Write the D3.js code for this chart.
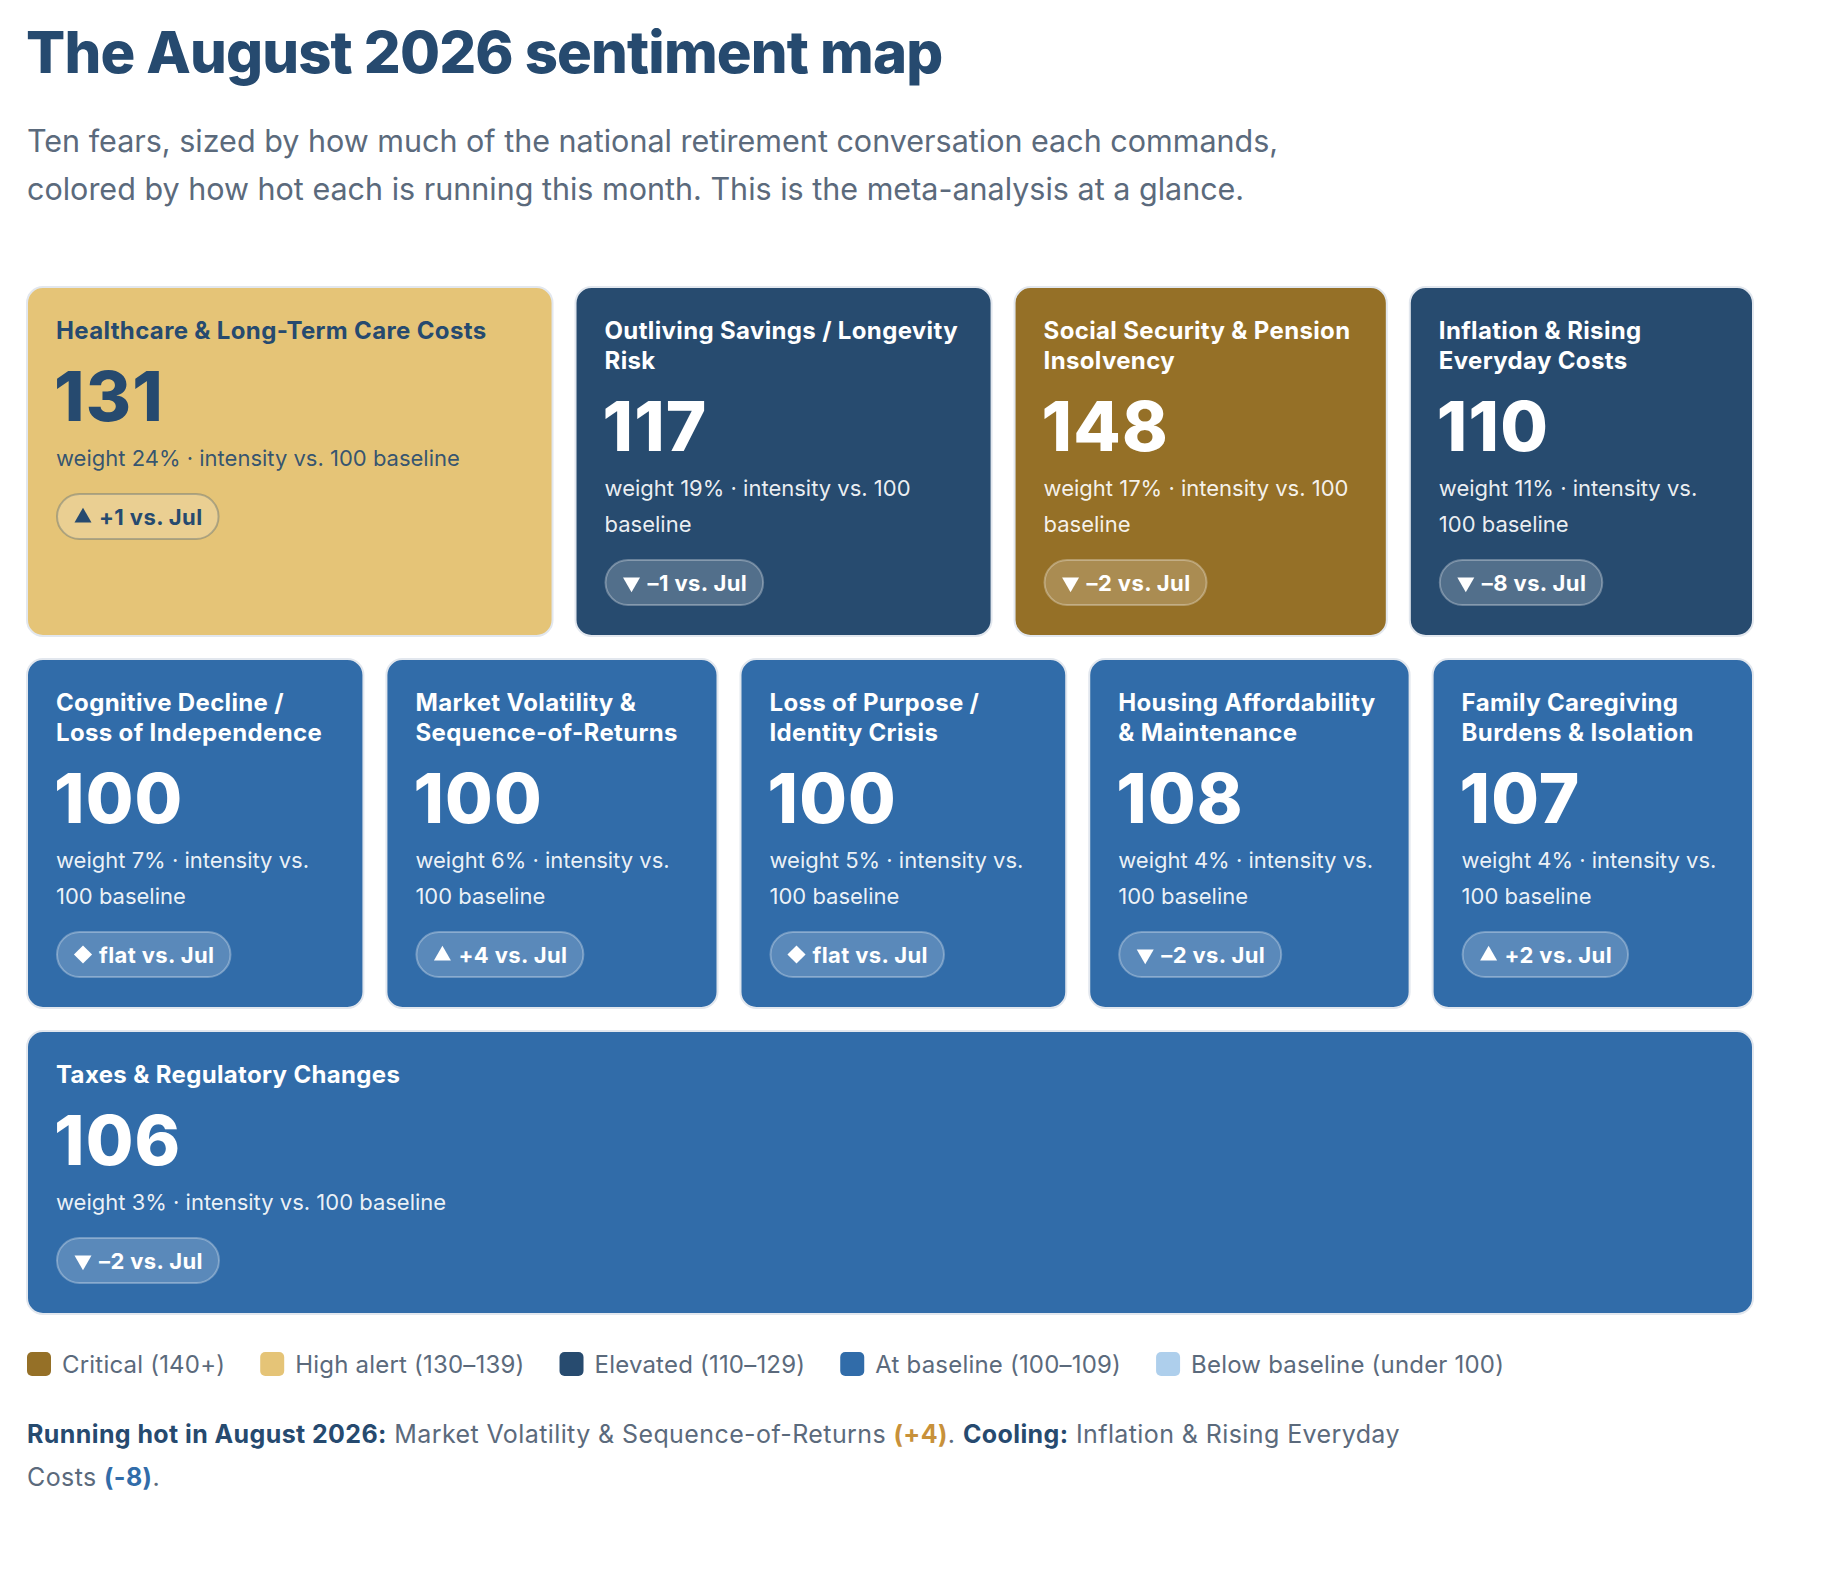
<!DOCTYPE html>
<html>
<head>
<meta charset="utf-8">
<script src="https://cdn.jsdelivr.net/npm/d3@7"></script>
<style>
  html, body { margin: 0; padding: 0; background: #fff; }
  svg { display: block; font-family: Inter, "Noto Sans", sans-serif; }
</style>
</head>
<body>
<svg id="chart" width="1830" height="1572"></svg>
<script>
// ---- data ----
const fearNames = [
  "Healthcare & Long-Term Care Costs",
  "Outliving Savings / Longevity Risk",
  "Social Security & Pension Insolvency",
  "Inflation & Rising Everyday Costs",
  "Cognitive Decline / Loss of Independence",
  "Market Volatility & Sequence-of-Returns",
  "Loss of Purpose / Identity Crisis",
  "Housing Affordability & Maintenance",
  "Family Caregiving Burdens & Isolation",
  "Taxes & Regulatory Changes"
];
const intensity = [131, 117, 148, 110, 100, 100, 100, 108, 107, 106];
const weightPct = [24, 19, 17, 11, 7, 6, 5, 4, 4, 3];
const changeVsPrev = [1, -1, -2, -8, 0, 4, 0, -2, 2, -2];

const monthLabel = "August 2026";
const prevLabel = "Jul";

const bandBreaks = [100, 110, 130, 140];
const bandNames = ["Below baseline (under 100)", "At baseline (100–109)", "Elevated (110–129)", "High alert (130–139)", "Critical (140+)"];
const bandColors = ["#aecfec", "#316ca9", "#274b6f", "#e5c477", "#957027"];
const legendOrder = [4, 3, 2, 1, 0];

const titleText = "The August 2026 sentiment map";
const subtitleText = "Ten fears, sized by how much of the national retirement conversation each commands, colored by how hot each is running this month. This is the meta-analysis at a glance.";

// ---- setup ----
const NAVY = "#264a6f", GREY = "#5b6a7c", HOT = "#c8913a", COOL = "#316ca9";
const svg = d3.select("#chart");
const left = 27, innerW = 1726, gap = 23, cardTop = 287, pad = 29;

const fillScale = d3.scaleThreshold().domain(bandBreaks).range(bandColors);
const inkScale = d3.scaleThreshold().domain(bandBreaks).range([NAVY, "#fff", "#fff", NAVY, "#fff"]);
// flex-like sizing: basis from weight, clamped to a minimum, then grow by weight
const basisScale = d3.scaleLinear().domain([0, 100]).range([0, 1788]);
const minBasis = 299;

const measurer = svg.append("text").attr("visibility", "hidden");
function textW(str, size, weight, ls) {
  measurer.attr("font-size", size).attr("font-weight", weight || 400)
    .attr("letter-spacing", ls || 0).text(str);
  return measurer.node().getComputedTextLength();
}
function wrap(str, maxW, size, weight, ls) {
  const words = str.split(" ");
  const lines = [];
  let line = "";
  words.forEach(w => {
    const t = line ? line + " " + w : w;
    if (line && textW(t, size, weight, ls) > maxW) { lines.push(line); line = w; }
    else line = t;
  });
  if (line) lines.push(line);
  return lines;
}

// ---- header ----
svg.append("text")
  .attr("x", left - 1).attr("y", 73)
  .attr("font-size", 58).attr("font-weight", 800).attr("letter-spacing", -0.85)
  .attr("fill", NAVY).text(titleText);

const subLines = wrap(subtitleText, 1300, 30.5, 400);
svg.append("g").selectAll("text").data(subLines).join("text")
  .attr("x", left).attr("y", (d, i) => 152 + i * 48)
  .attr("font-size", 30.5).attr("fill", GREY).text(d => d);

// ---- cards ----
const cards = fearNames.map((name, i) => ({
  name, value: intensity[i], weight: weightPct[i], change: changeVsPrev[i]
}));

const rows = [];
let cur = [], used = 0;
cards.forEach(c => {
  c.basis = Math.max(minBasis, basisScale(c.weight));
  const need = (cur.length ? gap : 0) + c.basis;
  if (cur.length && used + need > innerW) { rows.push(cur); cur = []; used = 0; }
  used += (cur.length ? gap : 0) + c.basis;
  cur.push(c);
});
rows.push(cur);

const TS = 24, TLS = 0.35, NS = 69, MS = 22, BS = 22, BLS = 0.4;
rows.forEach(row => {
  const free = innerW - gap * (row.length - 1) - d3.sum(row, d => d.basis);
  const k = free / d3.sum(row, d => d.weight);
  let x = left;
  row.forEach(c => {
    c.w = c.basis + c.weight * k;
    c.x = x; x += c.w + gap;
    const inner = c.w - 2 * pad + 3;
    c.titleLines = wrap(c.name, inner, TS, 700, TLS);
    c.metaLines = wrap("weight " + c.weight + "% · intensity vs. 100 baseline", inner, MS, 400);
    c.numY = 52 + 30 * (c.titleLines.length - 1) + 82;
    c.metaY = c.numY + 45;
    c.badgeY = c.metaY + 36 * (c.metaLines.length - 1) + 27;
    c.need = c.badgeY + 47 + 30;
  });
});
let y = cardTop;
rows.forEach(row => {
  const h = d3.max(row, d => d.need);
  row.forEach(c => { c.y = y; c.h = h; });
  y += h + gap;
});
const cardsBottom = y - gap;

const g = svg.append("g").selectAll("g").data(cards).join("g")
  .attr("transform", d => `translate(${d.x},${d.y})`);

g.append("rect")
  .attr("width", d => d.w).attr("height", d => d.h).attr("rx", 16)
  .attr("fill", d => fillScale(d.value))
  .attr("stroke", "#e2e7ee").attr("stroke-width", 2);

g.each(function (d) {
  const sel = d3.select(this);
  const ink = inkScale(d.value);
  sel.append("g").selectAll("text").data(d.titleLines).join("text")
    .attr("x", pad).attr("y", (t, i) => 52 + i * 30)
    .attr("font-size", TS).attr("font-weight", 700).attr("letter-spacing", TLS)
    .attr("fill", ink).text(t => t);
  sel.append("text")
    .attr("x", pad - 2).attr("y", d.numY)
    .attr("font-size", NS).attr("font-weight", 800).attr("letter-spacing", 1.2)
    .attr("fill", ink).text(d.value);
  sel.append("g").selectAll("text").data(d.metaLines).join("text")
    .attr("x", pad).attr("y", (t, i) => d.metaY + i * 36)
    .attr("font-size", MS).attr("fill", ink).attr("fill-opacity", 0.92).text(t => t);

  // change badge
  const label = (d.change > 0 ? "+" + d.change : d.change < 0 ? "–" + Math.abs(d.change) : "flat") + " vs. " + prevLabel;
  const lw = textW(label, BS, 700, BLS);
  const bw = 19 + 16 + 8 + lw + 17, bh = 47;
  const b = sel.append("g").attr("transform", `translate(${pad},${d.badgeY})`);
  b.append("rect")
    .attr("x", 1).attr("y", 1).attr("width", bw - 2).attr("height", bh - 2).attr("rx", (bh - 2) / 2)
    .attr("fill", "#fff").attr("fill-opacity", 0.2)
    .attr("stroke", ink).attr("stroke-opacity", 0.3).attr("stroke-width", 2);
  const sym = d.change === 0
    ? d3.symbol().type(d3.symbolDiamond2).size(210)
    : d3.symbol().type(d3.symbolTriangle).size(125);
  b.append("path")
    .attr("d", sym())
    .attr("transform", `translate(${19 + 8},${bh / 2 + (d.change > 0 ? 1 : 0)}) rotate(${d.change < 0 ? 180 : 0})`)
    .attr("fill", ink);
  b.append("text")
    .attr("x", 19 + 16 + 8).attr("y", bh / 2 + 8)
    .attr("font-size", BS).attr("font-weight", 700).attr("letter-spacing", BLS)
    .attr("fill", ink).text(label);
});

// ---- legend ----
const legY = cardsBottom + 50, LS = 24, LLS = 0.2;
let lx = left;
legendOrder.forEach(i => {
  svg.append("rect").attr("x", lx).attr("y", legY - 12).attr("width", 24).attr("height", 24)
    .attr("rx", 5).attr("fill", bandColors[i]);
  svg.append("text").attr("x", lx + 35).attr("y", legY + 9)
    .attr("font-size", LS).attr("letter-spacing", LLS).attr("fill", GREY).text(bandNames[i]);
  lx += 35 + textW(bandNames[i], LS, 400, LLS) + 35;
});

// ---- footnote ----
const hot = cards[d3.maxIndex(cards, d => d.change)];
const cool = cards[d3.minIndex(cards, d => d.change)];
const fmt = v => "(" + (v > 0 ? "+" : "") + v + ")";
const segs = [
  { t: "Running hot in " + monthLabel + ":", w: 700, c: NAVY },
  { t: " " + hot.name + " ", w: 400, c: GREY },
  { t: fmt(hot.change), w: 700, c: HOT },
  { t: ". ", w: 400, c: GREY },
  { t: "Cooling:", w: 700, c: NAVY },
  { t: " " + cool.name + " ", w: 400, c: GREY },
  { t: fmt(cool.change), w: 700, c: COOL },
  { t: ".", w: 400, c: GREY }
];
const FS = 25, FLS = 0.4;
const tokens = [];
segs.forEach(s => {
  s.t.split(/(\s+)/).forEach(p => { if (p) tokens.push({ t: p, w: s.w, c: s.c }); });
});
// glue punctuation to the previous word so it never starts a line
const glued = [];
tokens.forEach(tk => {
  const prev = glued[glued.length - 1];
  if (prev && !/^\s+$/.test(tk.t) && !/^\s+$/.test(prev[prev.length - 1].t)) prev.push(tk);
  else glued.push([tk]);
});
const fLines = [[]];
let fx = 0;
glued.forEach(word => {
  const tw = d3.sum(word, tk => textW(tk.t.replace(/ /g, "\u00a0"), FS, tk.w, FLS));
  const isSpace = /^\s+$/.test(word[0].t);
  if (!isSpace && fx + tw > 1385 && fLines[fLines.length - 1].length) {
    const last = fLines[fLines.length - 1];
    while (last.length && /^\s+$/.test(last[last.length - 1][0].t)) last.pop();
    fLines.push([]); fx = 0;
  }
  if (isSpace && fx === 0) return;
  fLines[fLines.length - 1].push(word); fx += tw;
});
const footY = legY + 79;
fLines.forEach((line, li) => {
  const txt = svg.append("text").attr("x", left).attr("y", footY + li * 43)
    .attr("font-size", FS).attr("letter-spacing", FLS).style("white-space", "pre");
  line.flat().forEach(tk => {
    txt.append("tspan").attr("font-weight", tk.w).attr("fill", tk.c).text(tk.t);
  });
});
measurer.remove();
</script>
</body>
</html>
